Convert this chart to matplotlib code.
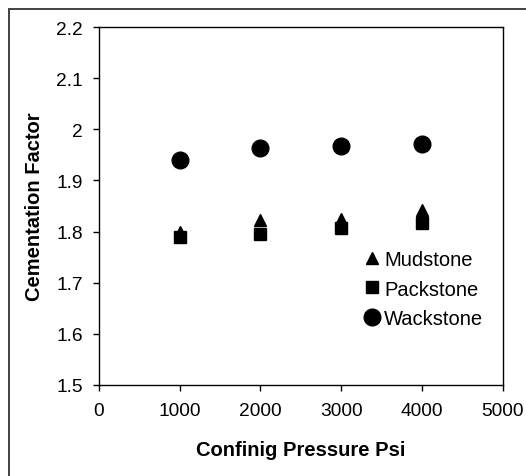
import matplotlib.pyplot as plt
from matplotlib.patches import Rectangle

plt.rcParams['font.family'] = ['Liberation Sans', 'DejaVu Sans']

pressure = [1000, 2000, 3000, 4000]
mudstone = [1.80, 1.822, 1.825, 1.842]
packstone = [1.790, 1.796, 1.807, 1.816]
wackstone = [1.940, 1.963, 1.968, 1.972]

fig = plt.figure(figsize=(5.26, 4.77), dpi=100)
ax = fig.add_axes([0.188, 0.191, 0.768, 0.750])

# outer chart frame (only left and top edges visible in the crop)
fig.patches.append(Rectangle((9.5 / 526, -0.2), 1.2, 1.2 - 9.5 / 477,
                             transform=fig.transFigure, fill=False,
                             edgecolor='#333333', linewidth=1.3))

ax.plot(pressure, mudstone, linestyle='none', marker='^', markersize=8,
        color='black', label='Mudstone')
ax.plot(pressure, packstone, linestyle='none', marker='s', markersize=9,
        color='black', label='Packstone')
ax.plot(pressure, wackstone, linestyle='none', marker='o', markersize=12,
        color='black', label='Wackstone')

ax.set_xlim(0, 5000)
ax.set_ylim(1.5, 2.2)
ax.set_xticks([0, 1000, 2000, 3000, 4000, 5000])
ax.set_yticks([1.5, 1.6, 1.7, 1.8, 1.9, 2.0, 2.1, 2.2])
ax.set_yticklabels(['1.5', '1.6', '1.7', '1.8', '1.9', '2', '2.1', '2.2'])
ax.tick_params(direction='out', length=4.5, width=1, labelsize=13.8)
ax.tick_params(axis='y', pad=7)
ax.tick_params(axis='x', pad=8)
for s in ax.spines.values():
    s.set_linewidth(1)

ax.set_xlabel('Confinig Pressure Psi', fontsize=14.5, fontweight='bold', labelpad=15)
ax.set_ylabel('Cementation Factor', fontsize=14.5, fontweight='bold', labelpad=9)

ax.legend(loc='center left', bbox_to_anchor=(0.651, 0.268), frameon=False,
          fontsize=14.5, handletextpad=0.1, labelspacing=0.5, handlelength=1.0,
          borderpad=0, borderaxespad=0)

fig.savefig('out.png', dpi=100)
